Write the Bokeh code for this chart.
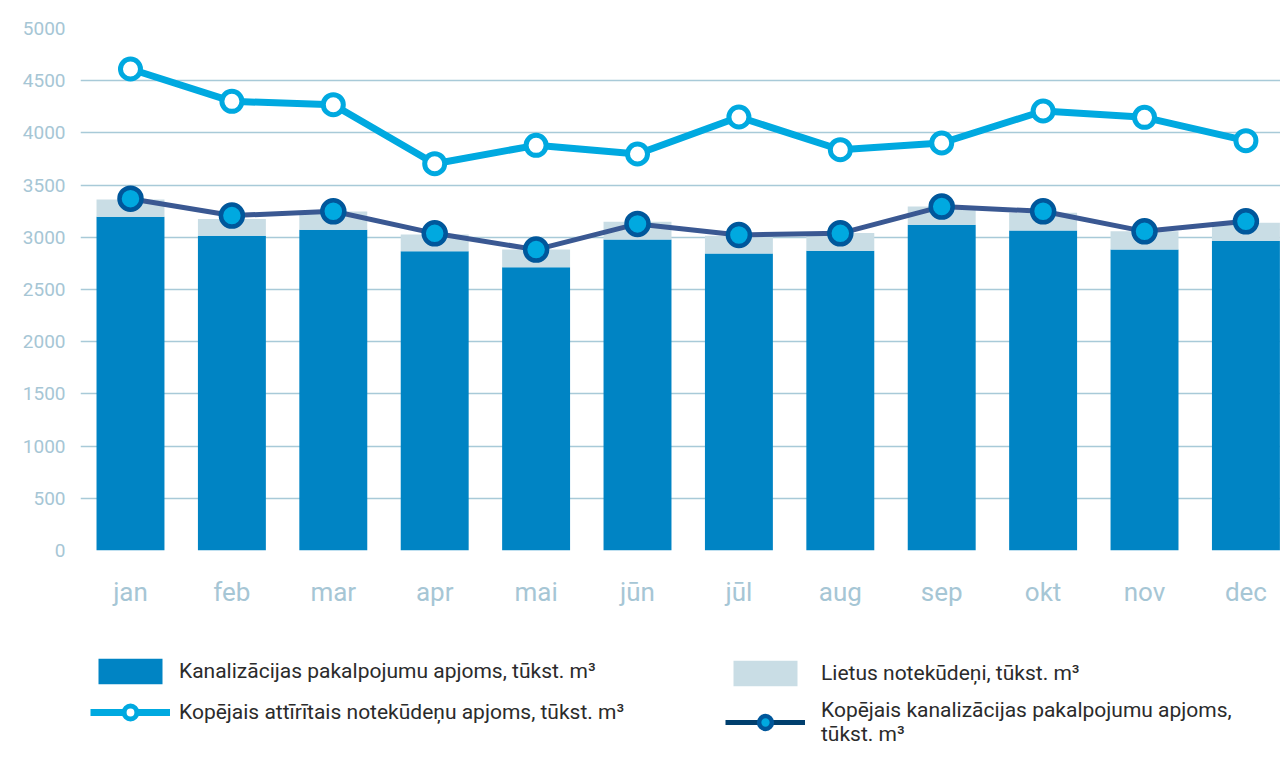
from bokeh.plotting import figure
from bokeh.layouts import column
from bokeh.models import Legend, LegendItem, ColumnDataSource, FixedTicker
from bokeh.embed import file_html
from bokeh.resources import INLINE
import numpy as np

months = ["jan", "feb", "mar", "apr", "mai", "jūn", "jūl", "aug", "sep", "okt", "nov", "dec"]
kanalizacija = [3198, 3016, 3073, 2866, 2713, 2978, 2844, 2872, 3121, 3064, 2882, 2968]
lietus = [163, 160, 173, 160, 169, 172, 172, 168, 173, 172, 175, 172]
kopejais_kanal = [3370, 3208, 3249, 3038, 2882, 3128, 3022, 3038, 3294, 3249, 3057, 3153]
attiritais = [4612, 4302, 4270, 3705, 3881, 3798, 4152, 3839, 3903, 4210, 4149, 3926]
y_ticks = [0, 500, 1000, 1500, 2000, 2500, 3000, 3500, 4000, 4500, 5000]

x = list(range(len(months)))
src = ColumnDataSource(dict(
    x=x,
    kanal=kanalizacija,
    top=(np.array(kanalizacija) + np.array(lietus)).tolist(),
    total=kopejais_kanal,
    att=attiritais,
))

FONT = "Roboto"
C_KANAL = "#0084C4"
C_LIETUS = "#C9DDE5"
C_ATT = "#00A9E0"
C_TOTAL_LINE = "#3A5892"
C_TOTAL_EDGE = "#00579B"


def add_series(fig, total_line_color):
    bar_w = 0.67
    r_kanal = fig.vbar(x="x", top="kanal", bottom=0, width=bar_w, source=src,
                       fill_color=C_KANAL, line_color=None)
    r_lietus = fig.vbar(x="x", top="top", bottom="kanal", width=bar_w, source=src,
                        fill_color=C_LIETUS, line_color=None)
    l_total = fig.line(x="x", y="total", source=src, line_color=total_line_color, line_width=5)
    s_total = fig.scatter(x="x", y="total", source=src, size=22, fill_color=C_ATT,
                          line_color=C_TOTAL_EDGE, line_width=4.5)
    l_att = fig.line(x="x", y="att", source=src, line_color=C_ATT, line_width=7)
    s_att = fig.scatter(x="x", y="att", source=src, size=20, fill_color="white",
                        line_color=C_ATT, line_width=5)
    return r_kanal, r_lietus, l_total, s_total, l_att, s_att


# ---- main chart ----
p = figure(width=1280, height=610, x_range=(-0.493, 11.341), y_range=(0, 5000),
           output_backend="svg", toolbar_location=None,
           min_border_left=80, min_border_right=0, min_border_top=28, min_border_bottom=60)
p.outline_line_color = None
p.xgrid.grid_line_color = None
p.ygrid.grid_line_color = "#A8CAD8"
p.ygrid.grid_line_width = 1.5
p.yaxis.ticker = FixedTicker(ticks=y_ticks)
p.xaxis.ticker = FixedTicker(ticks=x)
p.xaxis.major_label_overrides = {i: m for i, m in enumerate(months)}
for ax in (p.xaxis, p.yaxis):
    ax.axis_line_color = None
    ax.major_tick_line_color = None
    ax.minor_tick_line_color = None
    ax.major_label_text_font = FONT
    ax.major_label_text_color = "#A6C6D5"
p.yaxis.major_label_text_font_size = "19px"
p.yaxis.major_label_standoff = 9
p.xaxis.major_label_text_font_size = "26px"
p.xaxis.major_label_standoff = 20
add_series(p, C_TOTAL_LINE)

# ---- legend panel (its series lie outside its view, only the legend shows) ----
pl = figure(width=1280, height=139, x_range=(-1000, -999), y_range=(-1000, -999),
            output_backend="svg", toolbar_location=None,
            x_axis_location=None, y_axis_location=None,
            min_border_left=80, min_border_right=0, min_border_top=0, min_border_bottom=0)
pl.outline_line_color = None
pl.grid.visible = False
r_kanal, r_lietus, l_total, s_total, l_att, s_att = add_series(pl, "#003F6E")


def make_legend(items, loc, standoff):
    lg = Legend(items=items, location=loc, orientation="vertical")
    lg.border_line_color = None
    lg.background_fill_alpha = 0
    lg.padding = 0
    lg.margin = 0
    lg.spacing = 9
    lg.glyph_width = 80
    lg.glyph_height = 32
    lg.label_standoff = standoff
    lg.label_text_font = FONT
    lg.label_text_font_size = "21px"
    lg.label_text_color = "#2B2B2B"
    return lg


leg1 = make_legend([
    LegendItem(label="Kanalizācijas pakalpojumu apjoms, tūkst. m³", renderers=[r_kanal]),
    LegendItem(label="Kopējais attīrītais notekūdeņu apjoms, tūkst. m³", renderers=[l_att, s_att]),
], (10, 21), 9)
leg2 = make_legend([
    LegendItem(label="Lietus notekūdeņi, tūkst. m³", renderers=[r_lietus]),
    LegendItem(label="Kopējais kanalizācijas pakalpojumu apjoms,\ntūkst. m³", renderers=[l_total, s_total]),
], (645, 3), 16)
pl.add_layout(leg1)
pl.add_layout(leg2)

open("out.html", "w").write(file_html(column(p, pl, spacing=0), INLINE))
